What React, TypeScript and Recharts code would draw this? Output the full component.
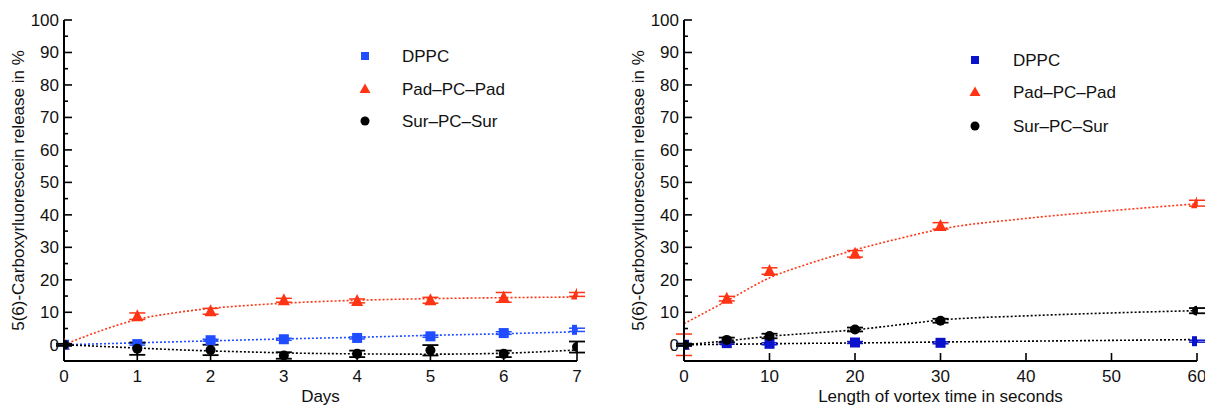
import { ComposedChart, Line, Scatter, XAxis, YAxis, ErrorBar } from "recharts";

const FONT = "'Liberation Sans', Arial, Helvetica, sans-serif";
const FS = 17;
const RED = "#ff3414";
const BLUE_L = "#1f4dff";
const BLUE_R = "#0a12cc";
const BLACK = "#000000";

// ---- left panel: release over days ----
const leftDays = [0, 1, 2, 3, 4, 5, 6, 7];
const leftDppc = [0, 0.2, 1.4, 1.7, 2.1, 2.6, 3.6, 4.6];
const leftDppcErr = [0.3, 0.3, 0.3, 0.3, 0.3, 0.3, 0.4, 0.5];
const leftPad = [0, 8.8, 10.3, 13.7, 13.5, 13.7, 14.6, 15.5];
const leftPadErr = [0.3, 1.0, 0.9, 0.6, 0.6, 0.9, 1.5, 0.6];
const leftSur = [0, -1.2, -1.6, -3.3, -2.8, -1.7, -2.8, -0.7];
const leftSurErr = [0.3, 1.9, 1.6, 1.0, 1.0, 1.6, 1.0, 1.7];

const leftFitX = [0, 0.5, 1, 1.5, 2, 2.5, 3, 4, 5, 6, 7];
const leftFitPad = [0, 4.3, 7.8, 9.8, 11.2, 12.1, 12.8, 13.7, 14.2, 14.5, 14.7];
const leftFitDppc = [0, 0.3, 0.6, 0.9, 1.2, 1.5, 1.8, 2.3, 2.9, 3.4, 4.0];
const leftFitSur = [0, -0.5, -1.0, -1.5, -1.9, -2.2, -2.5, -2.8, -2.9, -2.6, -1.6];

// ---- right panel: release vs vortex time ----
const rightSecs = [0, 5, 10, 20, 30, 60];
const rightDppc = [0, 0.5, 0.3, 0.7, 0.6, 1.1];
const rightDppcErr = [0.4, 0.3, 0.3, 0.3, 0.3, 0.3];
const rightPad = [0, 14.2, 22.7, 28, 36.6, 43.6];
const rightPadErr = [3.3, 0.7, 1.0, 1.0, 1.0, 0.9];
const rightSur = [0, 1.5, 2.7, 4.7, 7.4, 10.5];
const rightSurErr = [0.3, 0.7, 0.7, 0.6, 0.6, 0.8];

const rightFitX = [0, 5, 10, 15, 20, 25, 30, 40, 50, 60];
const rightFitPad = [6.5, 13.5, 20.6, 25.3, 29.2, 32.6, 35.6, 38.9, 41.3, 43.4];
const rightFitSur = [0, 1.2, 2.6, 3.6, 4.6, 6.1, 7.6, 8.9, 9.8, 10.5];
const rightFitDppc = [0, 0.15, 0.3, 0.45, 0.55, 0.7, 0.85, 1.1, 1.35, 1.6];

const yTicks = [0, 5, 10, 15, 20, 25, 30, 35, 40, 45, 50, 55, 60, 65, 70, 75, 80, 85, 90, 95, 100];
const leftXTicks = [0, 1, 2, 3, 4, 5, 6, 7];
const rightXTicks = [0, 10, 20, 30, 40, 50, 60];

const legendNames = ["DPPC", "Pad\u2013PC\u2013Pad", "Sur\u2013PC\u2013Sur"];

const pts = (xs: number[], ys: number[], es?: number[]) =>
  xs.map((x, i) => ({ x, y: ys[i], e: es ? es[i] : 0 }));

const square = (color: string, s: number) => (p: any) =>
  <rect x={p.cx - s / 2} y={p.cy - s / 2} width={s} height={s} fill={color} />;
const triangle = (color: string, s: number) => (p: any) =>
  (
    <polygon
      points={`${p.cx},${p.cy - s * 0.58} ${p.cx + s / 2},${p.cy + s * 0.42} ${p.cx - s / 2},${p.cy + s * 0.42}`}
      fill={color}
    />
  );
const circle = (color: string, r: number) => (p: any) =>
  <circle cx={p.cx} cy={p.cy} r={r} fill={color} />;

type Side = "left" | "right" | "top" | "bottom";
const makeTick = (side: Side, labels: boolean, minor: boolean) => (props: any) => {
  const { x, y, payload } = props;
  const v = payload.value;
  const major = !minor || v % 10 === 0;
  const len = major ? 8 : 4;
  let line;
  if (side === "left") line = <line x1={x} x2={x + len} y1={y} y2={y} />;
  else if (side === "right") line = <line x1={x} x2={x - len} y1={y} y2={y} />;
  else if (side === "top") line = <line x1={x} x2={x} y1={y} y2={y + len} />;
  else line = <line x1={x} x2={x} y1={y} y2={y - len} />;
  return (
    <g stroke={BLACK} strokeWidth={1.6}>
      {line}
      {labels && major && side === "left" && (
        <text x={x - 5} y={y + 6} textAnchor="end" fontSize={FS} fontFamily={FONT} fill="#111" stroke="none">
          {v}
        </text>
      )}
      {labels && side === "bottom" && (
        <text x={x} y={y + 21} textAnchor="middle" fontSize={FS} fontFamily={FONT} fill="#111" stroke="none">
          {v}
        </text>
      )}
    </g>
  );
};

const yLabel = (props: any) => {
  const vb = props.viewBox;
  const cy = vb.y + vb.height / 2;
  return (
    <text
      transform={`translate(18,${cy}) rotate(-90)`}
      textAnchor="middle"
      dominantBaseline="central"
      fontSize={FS}
      fontFamily={FONT}
      fill="#111"
    >
      5(6)-Carboxyrluorescein release in %
    </text>
  );
};

type PanelProps = {
  width: number;
  rightMargin: number;
  xMax: number;
  xTicks: number[];
  xTitle: string;
  blue: string;
  blueFit: string;
  fitX: number[];
  fitPad: number[];
  fitDppc: number[];
  fitSur: number[];
  xs: number[];
  dppc: number[];
  dppcErr: number[];
  pad: number[];
  padErr: number[];
  sur: number[];
  surErr: number[];
};

function Panel(p: PanelProps) {
  const axisLine = { stroke: BLACK, strokeWidth: 2 };
  const dash = "2 2";
  return (
    <ComposedChart width={p.width} height={406} margin={{ top: 20, right: p.rightMargin, bottom: 0, left: 0 }}>
      <XAxis
        xAxisId={0}
        type="number"
        dataKey="x"
        domain={[0, p.xMax]}
        ticks={p.xTicks}
        interval={0}
        allowDataOverflow
        height={45}
        axisLine={axisLine}
        tickLine={false}
        tickSize={0}
        tickMargin={0}
        tick={makeTick("bottom", true, false)}
        label={{ value: p.xTitle, position: "insideBottom", offset: 4, fill: "#111", fontSize: FS, fontFamily: FONT }}
      />
      <XAxis
        xAxisId="top"
        orientation="top"
        type="number"
        dataKey="x"
        domain={[0, p.xMax]}
        ticks={p.xTicks}
        interval={0}
        allowDataOverflow
        height={0}
        axisLine={axisLine}
        tickLine={false}
        tickSize={0}
        tickMargin={0}
        tick={makeTick("top", false, false)}
      />
      <YAxis
        yAxisId={0}
        type="number"
        domain={[-5, 100]}
        ticks={yTicks}
        interval={0}
        allowDataOverflow
        width={64}
        axisLine={axisLine}
        tickLine={false}
        tickSize={0}
        tickMargin={0}
        tick={makeTick("left", true, true)}
        label={{ content: yLabel }}
      />
      <YAxis
        yAxisId="right"
        orientation="right"
        type="number"
        domain={[-5, 100]}
        ticks={yTicks}
        interval={0}
        allowDataOverflow
        width={0}
        axisLine={axisLine}
        tickLine={false}
        tickSize={0}
        tickMargin={0}
        tick={makeTick("right", false, true)}
      />

      <Line data={pts(p.fitX, p.fitPad)} dataKey="y" type="monotone" stroke={RED} strokeWidth={1.6} strokeDasharray={dash} dot={false} isAnimationActive={false} />
      <Line data={pts(p.fitX, p.fitDppc)} dataKey="y" type="monotone" stroke={p.blueFit} strokeWidth={1.6} strokeDasharray={dash} dot={false} isAnimationActive={false} />
      <Line data={pts(p.fitX, p.fitSur)} dataKey="y" type="monotone" stroke={BLACK} strokeWidth={1.6} strokeDasharray={dash} dot={false} isAnimationActive={false} />

      <Scatter data={pts(p.xs, p.pad, p.padErr)} dataKey="y" shape={triangle(RED, 12)} isAnimationActive={false}>
        <ErrorBar dataKey="e" direction="y" width={8} stroke={RED} strokeWidth={1.5} />
      </Scatter>
      <Scatter data={pts(p.xs, p.dppc, p.dppcErr)} dataKey="y" shape={square(p.blue, 10)} isAnimationActive={false}>
        <ErrorBar dataKey="e" direction="y" width={8} stroke={p.blue} strokeWidth={1.5} />
      </Scatter>
      <Scatter data={pts(p.xs, p.sur, p.surErr)} dataKey="y" shape={circle(BLACK, 5)} isAnimationActive={false}>
        <ErrorBar dataKey="e" direction="y" width={8} stroke={BLACK} strokeWidth={1.8} />
      </Scatter>
    </ComposedChart>
  );
}

function Legend({ mx, lx, ys, blue }: { mx: number; lx: number; ys: number[]; blue: string }) {
  return (
    <g fontFamily={FONT} fontSize={FS} fill="#111">
      <rect x={mx - 4} y={ys[0] - 4} width={8} height={8} fill={blue} />
      <polygon points={`${mx},${ys[1] - 5.5} ${mx + 5.5},${ys[1] + 4} ${mx - 5.5},${ys[1] + 4}`} fill={RED} />
      <circle cx={mx} cy={ys[2]} r={4.5} fill={BLACK} />
      {legendNames.map((n, i) => (
        <text key={n} x={lx} y={ys[i] + 6}>
          {n}
        </text>
      ))}
    </g>
  );
}

export default function App() {
  return (
    <div style={{ position: "absolute", left: 0, top: 0, width: 1205, height: 406, background: "#fff", fontFamily: FONT }}>
      <div style={{ position: "absolute", left: 0, top: 0 }}>
        <Panel
          width={600}
          rightMargin={23}
          xMax={7}
          xTicks={leftXTicks}
          xTitle="Days"
          blue={BLUE_L}
          blueFit={BLUE_L}
          fitX={leftFitX}
          fitPad={leftFitPad}
          fitDppc={leftFitDppc}
          fitSur={leftFitSur}
          xs={leftDays}
          dppc={leftDppc}
          dppcErr={leftDppcErr}
          pad={leftPad}
          padErr={leftPadErr}
          sur={leftSur}
          surErr={leftSurErr}
        />
      </div>
      <div style={{ position: "absolute", left: 620, top: 0 }}>
        <Panel
          width={585}
          rightMargin={8}
          xMax={60}
          xTicks={rightXTicks}
          xTitle="Length of vortex time in seconds"
          blue={BLUE_R}
          blueFit={BLACK}
          fitX={rightFitX}
          fitPad={rightFitPad}
          fitDppc={rightFitDppc}
          fitSur={rightFitSur}
          xs={rightSecs}
          dppc={rightDppc}
          dppcErr={rightDppcErr}
          pad={rightPad}
          padErr={rightPadErr}
          sur={rightSur}
          surErr={rightSurErr}
        />
      </div>
      <svg width={1205} height={406} style={{ position: "absolute", left: 0, top: 0, pointerEvents: "none" }}>
        <Legend mx={365} lx={402} ys={[56, 89, 121]} blue={BLUE_L} />
        <Legend mx={975} lx={1013} ys={[60, 92, 126]} blue={BLUE_R} />
      </svg>
    </div>
  );
}
